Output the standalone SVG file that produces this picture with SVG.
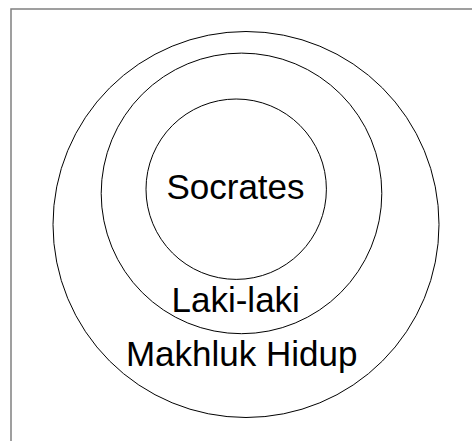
<svg xmlns="http://www.w3.org/2000/svg" width="472" height="441" viewBox="0 0 472 441">
<style>
.ring{fill:none;stroke:#000;stroke-width:1}
.lbl{font-family:"Liberation Sans",Arial,sans-serif;font-size:35px;fill:#000;text-anchor:middle}
</style>
<rect x="0" y="0" width="472" height="441" fill="#fff"/>
<path d="M11,441 V9 H472" fill="none" stroke="#808080" stroke-width="1.5"/>
<g id="makhluk-hidup">
<circle class="ring" cx="246" cy="224.5" r="193"/>
<text class="lbl" x="241.7" y="366">Makhluk Hidup</text>
</g>
<g id="laki-laki">
<circle class="ring" cx="241.5" cy="193.4" r="140.3"/>
<text class="lbl" x="235.7" y="311.7">Laki-laki</text>
</g>
<g id="socrates">
<circle class="ring" cx="236.2" cy="189.2" r="90.2"/>
<text class="lbl" x="235.5" y="198.5">Socrates</text>
</g>
<g id="connectors"/>
</svg>
